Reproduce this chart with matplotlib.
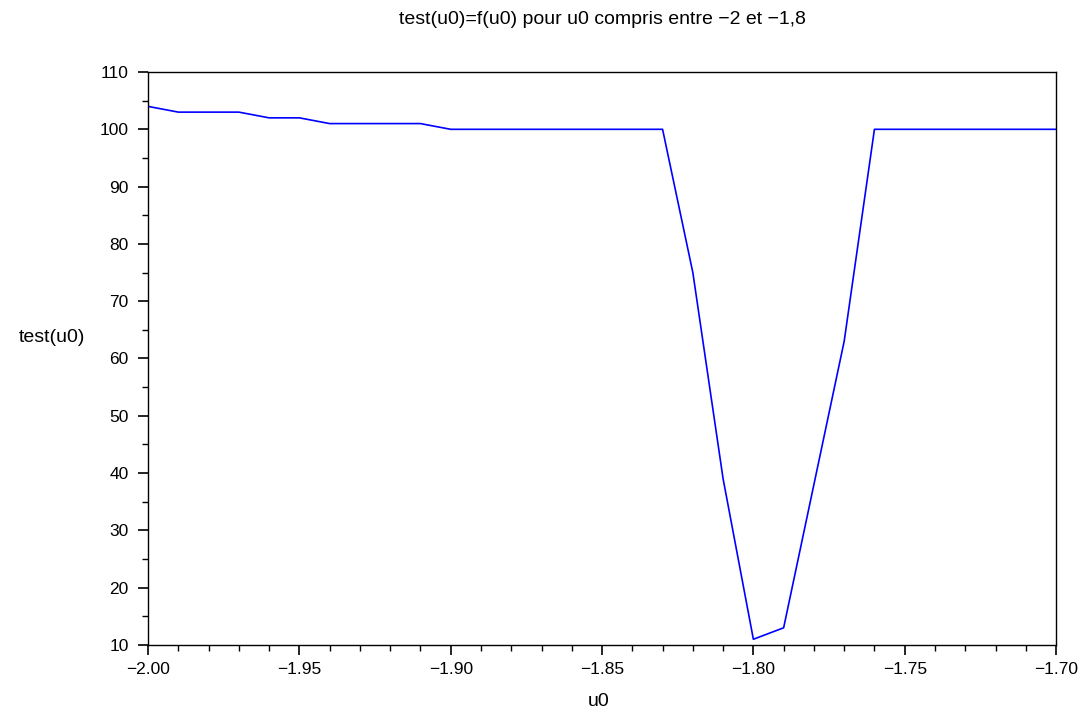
import matplotlib
matplotlib.use("Agg")
import matplotlib.pyplot as plt
from matplotlib.ticker import MultipleLocator, FuncFormatter

# u0 values, step 0.01
u0 = [-2.00, -1.99, -1.98, -1.97, -1.96, -1.95, -1.94, -1.93, -1.92, -1.91,
      -1.90, -1.89, -1.88, -1.87, -1.86, -1.85, -1.84, -1.83, -1.82, -1.81,
      -1.80, -1.79, -1.78, -1.77, -1.76, -1.75, -1.74, -1.73, -1.72, -1.71,
      -1.70]
test = [104, 103, 103, 103, 102, 102, 101, 101, 101, 101,
        100, 100, 100, 100, 100, 100, 100, 100, 75, 39,
        11, 13, 38, 63, 100, 100, 100, 100, 100, 100,
        100]

plt.rcParams['font.family'] = ['Liberation Sans', 'DejaVu Sans']

fig = plt.figure(figsize=(10.83, 7.13), dpi=100)
ax = fig.add_axes([0.1367, 0.0954, 0.8384, 0.8036])

ax.plot(u0, test, color='#0000ff', linewidth=1.2)

ax.set_xlim(-2.00, -1.70)
ax.set_ylim(10, 110)
ax.xaxis.set_major_locator(MultipleLocator(0.05))
ax.xaxis.set_minor_locator(MultipleLocator(0.01))
ax.xaxis.set_major_formatter(FuncFormatter(lambda v, p: ('%.2f' % v).replace('-', '\u2212')))
ax.yaxis.set_major_locator(MultipleLocator(10))
ax.yaxis.set_minor_locator(MultipleLocator(5))

ax.tick_params(which='both', direction='out', top=False, right=False,
               labelsize=12.5, colors='black')
ax.tick_params(which='major', length=7, width=1.2)
ax.tick_params(which='minor', length=4, width=1.0)
ax.tick_params(axis='y', which='major', pad=7)
ax.tick_params(axis='x', which='major', pad=5)
for s in ax.spines.values():
    s.set_linewidth(1.0)

ax.set_title("test(u0)=f(u0) pour u0 compris entre \u22122 et \u22121,8",
             fontsize=14, y=1.07)
ax.set_xlabel("u0", fontsize=14)
ax.xaxis.set_label_coords(0.496, -0.083)
ax.set_ylabel("test(u0)", fontsize=14, rotation=0, ha='right', va='center')
ax.yaxis.set_label_coords(-0.069, 0.537)

fig.savefig("out.png", dpi=100)
